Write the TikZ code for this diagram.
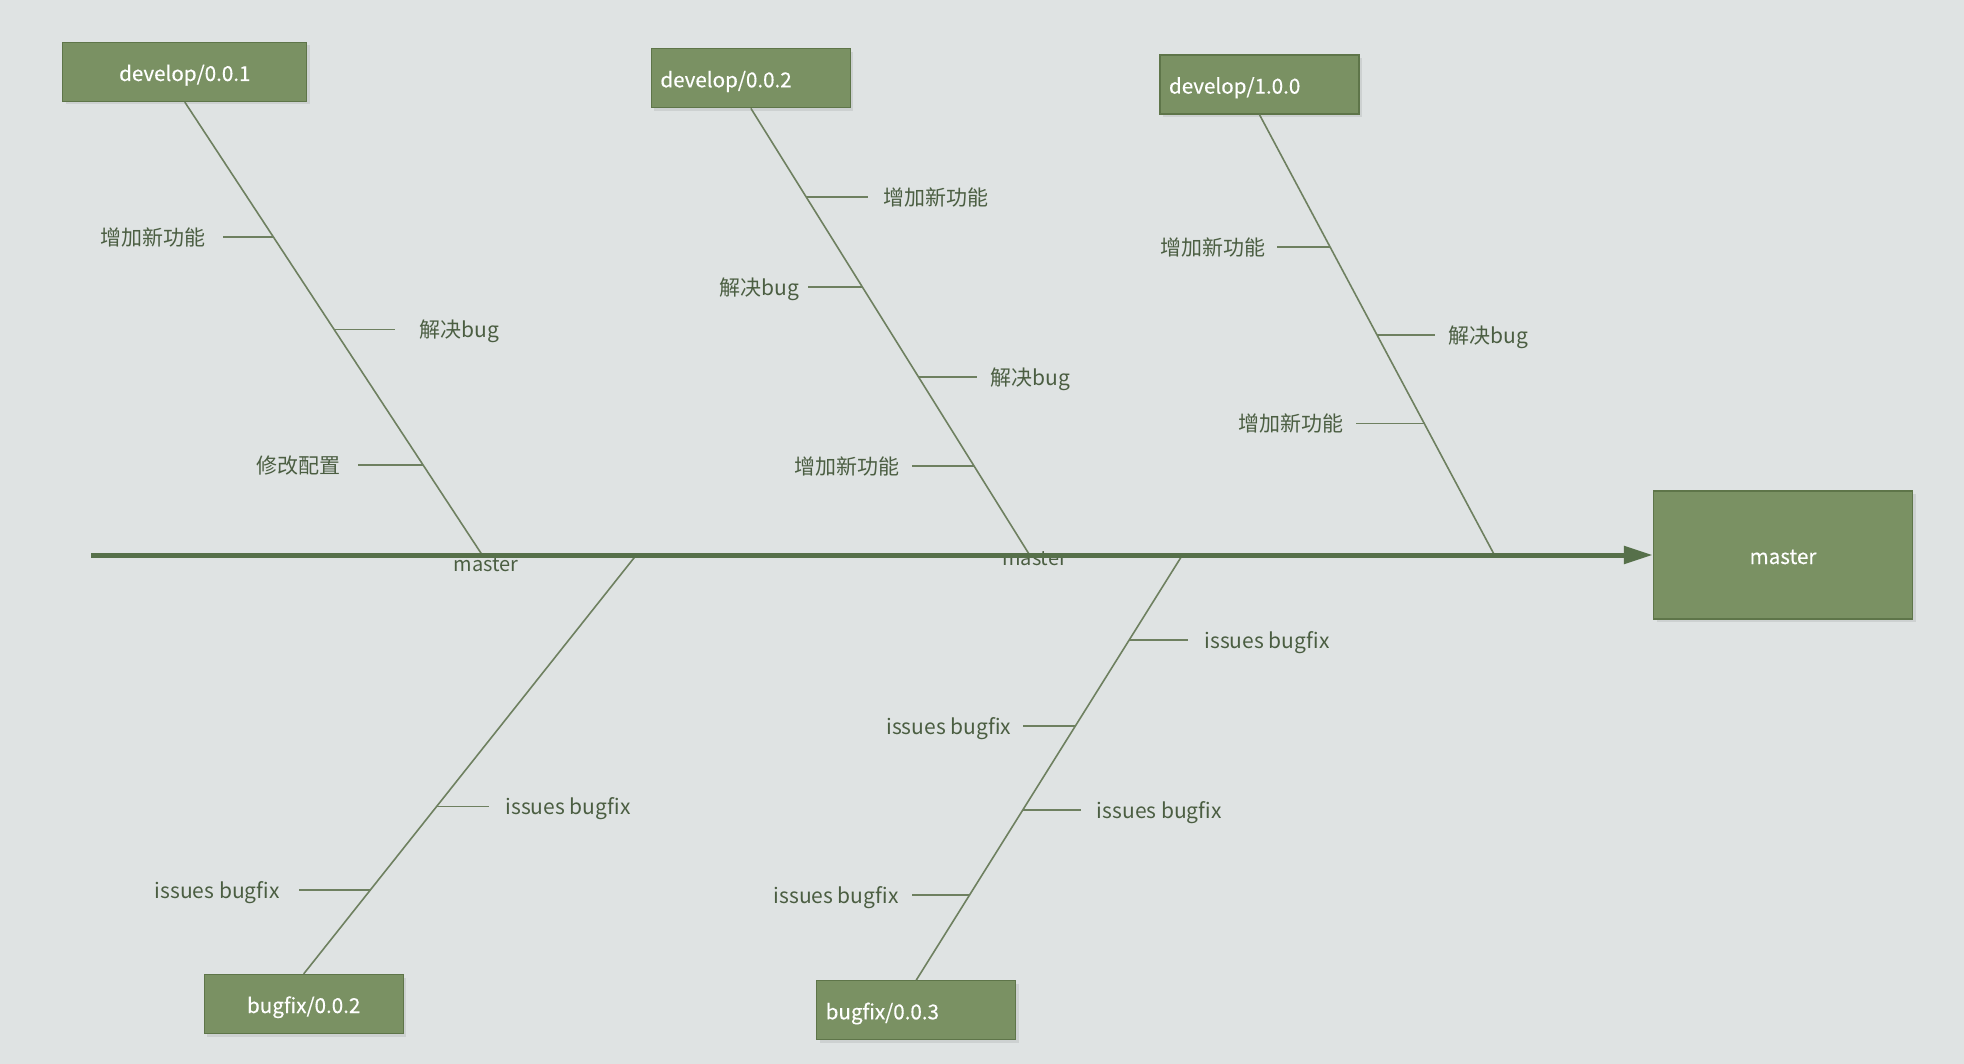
\documentclass[tikz,border=0pt]{standalone}
\usepackage{fontspec}
\newfontfamily\cjk{Noto Sans CJK SC}
\newfontfamily\cjkbox[FakeBold=0.4]{Noto Sans CJK SC}
\usetikzlibrary{calc,arrows.meta,shadows}
\definecolor{bgc}{HTML}{DFE3E3}
\definecolor{boxfill}{HTML}{7A9163}
\definecolor{boxedge}{HTML}{5E7549}
\definecolor{spine}{HTML}{56704A}
\definecolor{bonec}{HTML}{6E8060}
\definecolor{txtc}{HTML}{4B5E42}
\tikzset{
  box/.style={draw=boxedge, line width=1.2pt, fill=boxfill, text=white,
    font=\cjkbox\fontsize{20.6}{24}\selectfont, minimum height=59pt, inner ysep=0pt,
    text height=18pt, text depth=0pt,
    drop shadow={shadow xshift=3pt, shadow yshift=-3pt, fill=black, opacity=0.08}},
  boxC/.style={box, align=center, minimum width=#1, inner xsep=0pt},
  boxL/.style={box, align=left, text width=#1-18pt, inner xsep=9pt},
  bone/.style={draw=bonec, line width=1.6pt},
  stubline/.style={draw=bonec, line width=1.6pt},
  lab/.style={text=txtc, font=\cjk\fontsize{21}{25}\selectfont, inner sep=0pt,
    text height=16.5pt, text depth=0pt},
  mlab/.style={text=txtc, font=\cjk\fontsize{20}{24}\selectfont, inner sep=0pt},
  spineline/.style={draw=spine, line width=5pt, -{Triangle[length=29pt,width=17pt]}},
}
\newcommand\mystub[7]{%
  \path (#2) -- (#3) coordinate[pos=#4] (#1a);
  \coordinate (#1b) at ($(#1a)+(#5,0)$);
  \draw[stubline] (#1a) -- (#1b);
  \path let \p1=(#1a) in node[lab] (#1l) at (#6pt,\y1) {#7};
}
\begin{document}
\begin{tikzpicture}[x=1pt,y=-1pt]
\fill[bgc] (0,0) rectangle (1964,1064);
\useasboundingbox (0,0) rectangle (1964,1064);

% boxes
\node[boxC=244pt] (dev1) at (184.8,72) {develop/0.0.1};
\node[boxL=199pt] (dev2) at (750.9,78.3) {develop/0.0.2};
\node[boxL=199pt] (dev3) at (1259.5,84.6) {develop/1.0.0};
\node[boxC=259pt, minimum height=128pt] (master) at (1783,555) {master};
\node[boxC=199pt] (bug2) at (303.7,1004) {bugfix/0.0.2};
\node[boxL=199pt] (bug3) at (916.2,1010.3) {bugfix/0.0.3};

% spine points
\coordinate (start) at (91.4,555);
\coordinate (f1) at (482.2,555);
\coordinate (f2) at (1029.6,555);
\coordinate (f3) at (1494.4,555);
\coordinate (f4) at (636.3,555);
\coordinate (f5) at (1182.4,555);

% master labels under spine
\node[mlab] (m1) at (486,565) {master};
\node[mlab] (m2) at (1034.6,559) {master};

% bones
\draw[bone] (dev1.south) -- (f1);
\draw[bone] (dev2.south) -- (f2);
\draw[bone] (dev3.south) -- (f3);
\draw[bone] (f4) -- (bug2.north);
\draw[bone] (f5) -- (bug3.north);

% spine
\draw[spineline] (start) -- (master.west);

% stubs bone 1
\mystub{p11}{dev1.south}{f1}{0.298}{-50}{152.8}{增加新功能}
\mystub{p12}{dev1.south}{f1}{0.5025}{61}{459.7}{解决bug}
\mystub{p13}{dev1.south}{f1}{0.801}{-65}{298.7}{修改配置}
% bone 2
\mystub{p21}{dev2.south}{f2}{0.199}{62}{936.3}{增加新功能}
\mystub{p22}{dev2.south}{f2}{0.4005}{-55}{759.7}{解决bug}
\mystub{p23}{dev2.south}{f2}{0.602}{58}{1030.3}{解决bug}
\mystub{p24}{dev2.south}{f2}{0.801}{-62}{847.4}{增加新功能}
% bone 3
\mystub{p31}{dev3.south}{f3}{0.301}{-53}{1213}{增加新功能}
\mystub{p32}{dev3.south}{f3}{0.4998}{58}{1488.7}{解决bug}
\mystub{p33}{dev3.south}{f3}{0.7016}{-68}{1290.8}{增加新功能}
% bone 4
\mystub{p41}{f4}{bug2.north}{0.6}{52}{568}{issues bugfix}
\mystub{p42}{f4}{bug2.north}{0.8}{-71}{217.3}{issues bugfix}
% bone 5
\mystub{p51}{f5}{bug3.north}{0.2}{59}{1267}{issues bugfix}
\mystub{p52}{f5}{bug3.north}{0.4018}{-52}{948.8}{issues bugfix}
\mystub{p53}{f5}{bug3.north}{0.5999}{58}{1159.3}{issues bugfix}
\mystub{p54}{f5}{bug3.north}{0.8}{-57}{836.1}{issues bugfix}
\end{tikzpicture}
\end{document}
